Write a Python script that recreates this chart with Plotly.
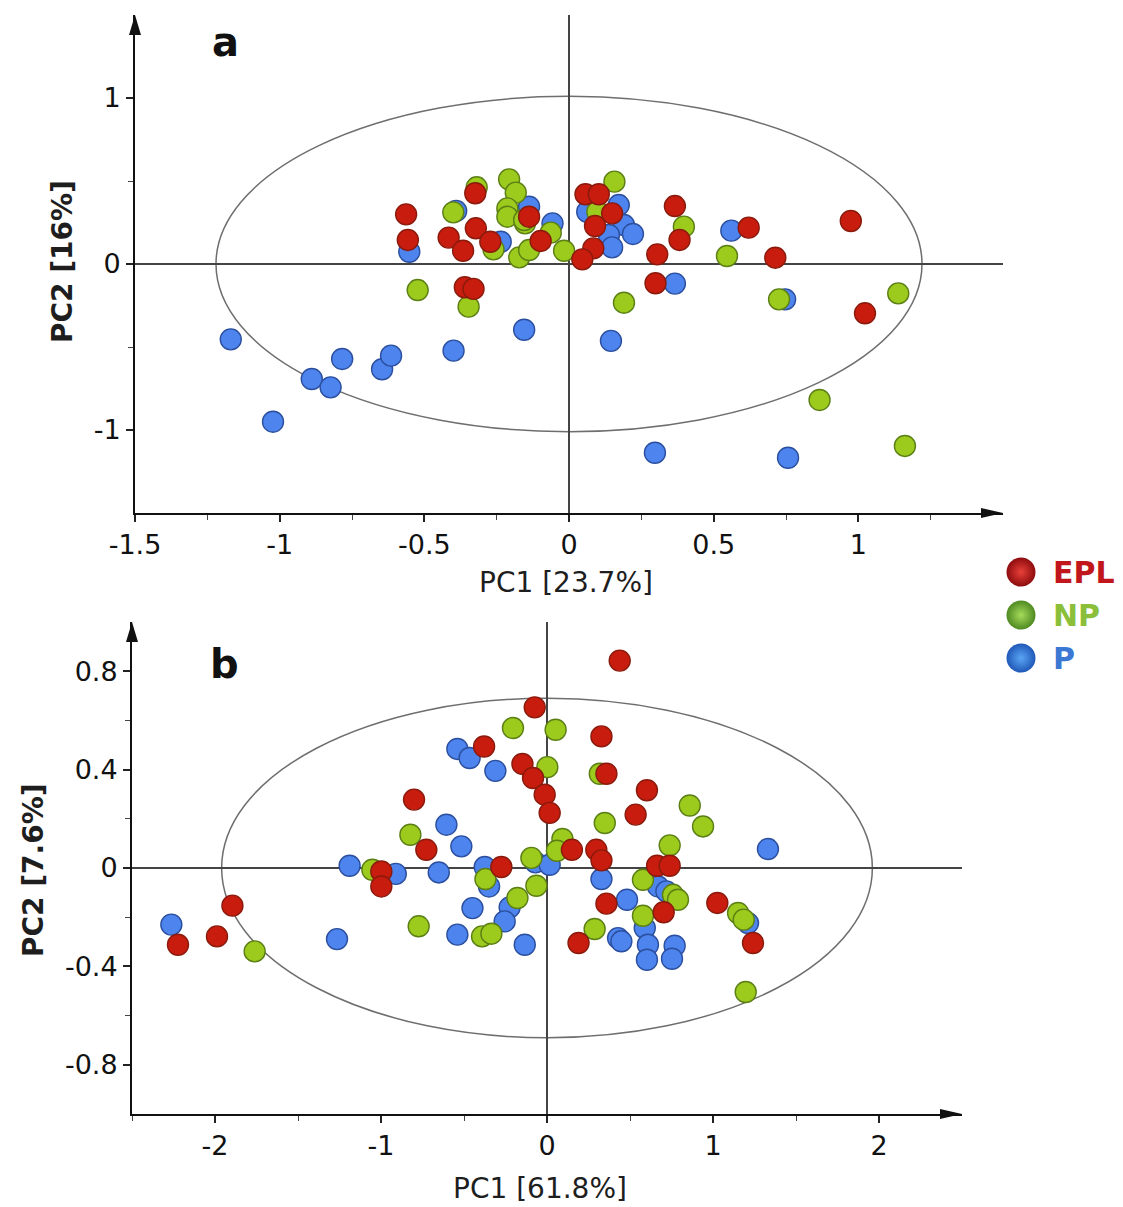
import plotly.graph_objects as go

# ---------------- data ----------------
groups = ["EPL", "NP", "P"]

# Panel a  (PC1 23.7 %, PC2 16 %)
a_epl_x = [-0.563, -0.557, -0.324, -0.416, -0.366, -0.322, -0.272, -0.138, -0.098, -0.36, -0.33,
           0.057, 0.103, 0.149, 0.090, 0.084, 0.046, 0.366, 0.382, 0.305, 0.299, 0.621, 0.713, 0.974, 1.023]
a_epl_y = [0.299, 0.145, 0.426, 0.159, 0.080, 0.215, 0.134, 0.285, 0.139, -0.14, -0.15,
           0.42, 0.42, 0.305, 0.229, 0.094, 0.028, 0.349, 0.145, 0.058, -0.116, 0.219, 0.038, 0.259, -0.297]
a_np_x = [-0.319, -0.207, -0.184, -0.213, -0.213, -0.152, -0.155, -0.40, -0.261, -0.172, -0.138, -0.063, -0.017,
          -0.523, -0.347, 0.157, 0.098, 0.397, 0.546, 0.190, 0.726, 1.138, 0.866, 1.161]
a_np_y = [0.462, 0.510, 0.430, 0.335, 0.285, 0.245, 0.265, 0.311, 0.088, 0.040, 0.084, 0.189, 0.080,
          -0.157, -0.257, 0.496, 0.315, 0.225, 0.048, -0.233, -0.213, -0.177, -0.819, -1.096]
a_p_x = [-1.169, -1.023, -0.889, -0.824, -0.784, -0.646, -0.615, -0.399, -0.155, 0.145, 0.366, 0.747,
         0.297, 0.757, -0.552, -0.39, -0.138, -0.057, -0.236, 0.063, 0.172, 0.19, 0.221, 0.138, 0.149, 0.561]
a_p_y = [-0.454, -0.95, -0.693, -0.743, -0.572, -0.634, -0.552, -0.522, -0.396, -0.463, -0.118, -0.213,
         -1.137, -1.167, 0.074, 0.32, 0.345, 0.245, 0.134, 0.315, 0.355, 0.235, 0.181, 0.175, 0.100, 0.201]

# Panel b  (PC1 61.8 %, PC2 7.6 %)
b_epl_x = [-0.074, -0.379, -0.148, -0.084, -0.014, 0.016, -0.801, -0.727, -0.998, -0.998, -0.275, 0.150,
           0.190, 0.438, 0.328, 0.358, 0.602, 0.534, 0.297, 0.328, 0.663, 0.739, 0.358, 0.703, 1.026, 1.241,
           -2.223, -1.988, -1.895]
b_epl_y = [0.653, 0.494, 0.423, 0.366, 0.298, 0.224, 0.278, 0.074, -0.014, -0.075, 0.004, 0.074,
           -0.305, 0.843, 0.535, 0.383, 0.316, 0.217, 0.074, 0.031, 0.009, 0.009, -0.145, -0.180, -0.142, -0.305,
           -0.312, -0.278, -0.153]
b_np_x = [-0.205, 0.052, 0.002, -0.823, -1.052, 0.093, 0.06, -0.094, -0.371, -0.064, -0.178, -0.773, -0.391,
          -0.335, 0.318, 0.348, 0.860, 0.940, 0.739, 0.578, 0.759, 0.789, 0.578, 0.287, 1.151, 1.185, 1.197, -1.761]
b_np_y = [0.569, 0.562, 0.410, 0.135, -0.007, 0.118, 0.07, 0.041, -0.045, -0.072, -0.122, -0.237, -0.278,
          -0.267, 0.383, 0.183, 0.254, 0.169, 0.092, -0.048, -0.109, -0.129, -0.194, -0.248, -0.183, -0.210, -0.504, -0.339]
b_p_x = [-0.540, -0.466, -0.311, -0.606, -0.516, -1.189, -0.911, -0.652, -0.375, -0.349, -0.070, 0.016,
         -0.449, -0.225, -0.255, -0.540, -0.134, -1.265, -2.263, 0.328, 0.482, 0.669, 0.719, 0.589, 0.428,
         0.448, 0.608, 0.602, 0.769, 0.753, 1.331, 1.211]
b_p_y = [0.484, 0.447, 0.395, 0.176, 0.088, 0.009, -0.024, -0.018, 0.004, -0.075, 0.023, 0.013,
         -0.163, -0.160, -0.217, -0.271, -0.312, -0.289, -0.230, -0.045, -0.129, -0.075, -0.095, -0.244, -0.285,
         -0.298, -0.312, -0.373, -0.316, -0.369, 0.077, -0.224]

# Hotelling ellipse semi-axes
a_ell = (1.22, 1.01)
b_ell = (1.96, 0.69)

# ticks
a_xticks = [-1.5, -1, -0.5, 0, 0.5, 1]
a_xlabels = ["-1.5", "-1", "-0.5", "0", "0.5", "1"]
a_xminor = [-1.25, -0.75, -0.25, 0.25, 0.75, 1.25]
a_yticks = [-1, 0, 1]
a_ylabels = ["-1", "0", "1"]
a_yminor = [-0.5, 0.5]
b_xticks = [-2, -1, 0, 1, 2]
b_xlabels = ["-2", "-1", "0", "1", "2"]
b_xminor = [-2.5, -1.5, -0.5, 0.5, 1.5]
b_yticks = [-0.8, -0.4, 0, 0.4, 0.8]
b_ylabels = ["-0.8", "-0.4", "0", "0.4", "0.8"]
b_yminor = [-0.6, -0.2, 0.2, 0.6]

# ---------------- styling ----------------
OFF = 8                       # page body margin
W, H = 1123 - OFF, 1207 - OFF
FONT = "DejaVu Sans"
fill = {"EPL": "#c81d0e", "NP": "#9ccb1e", "P": "#4d84ee"}
edge = {"EPL": "#8a1a0c", "NP": "#5b7f14", "P": "#2b4f9e"}
leg_light = {"EPL": "#e8403a", "NP": "#a6dc5a", "P": "#5aa6f4"}
leg_dark = {"EPL": "#8e0c0e", "NP": "#4f8a22", "P": "#2058b8"}
leg_text = {"EPL": "#c0161c", "NP": "#8bbf3a", "P": "#3a78d4"}

def fx(p):
    return (p - OFF) / W

def fy(p):
    return 1 - (p - OFF) / H

def px_dom_x(x0, x1):
    return [fx(x0), fx(x1)]

def px_dom_y(top, bottom):
    return [fy(bottom), fy(top)]

dom_ax = px_dom_x(135, 1003)
dom_ay = px_dom_y(15, 513)
dom_bx = px_dom_x(132, 962)
dom_by = px_dom_y(622, 1114)

fig = go.Figure()

panel_data = {
    "a": {"EPL": (a_epl_x, a_epl_y), "NP": (a_np_x, a_np_y), "P": (a_p_x, a_p_y)},
    "b": {"EPL": (b_epl_x, b_epl_y), "NP": (b_np_x, b_np_y), "P": (b_p_x, b_p_y)},
}
axes_of = {"a": ("x", "y"), "b": ("x2", "y2")}

for pan in ["a", "b"]:
    xr, yr = axes_of[pan]
    for g in ["P", "NP", "EPL"]:
        xs, ys = panel_data[pan][g]
        fig.add_trace(go.Scatter(
            x=xs, y=ys, mode="markers", xaxis=xr, yaxis=yr, name=g, showlegend=False,
            marker=dict(size=21, color=fill[g], line=dict(color=edge[g], width=1.4)),
        ))

# legend (drawn on a hidden helper axis measured in page pixels)
leg_x = 1021
leg_y0, leg_dy = 572, 43
for i, g in enumerate(groups):
    fig.add_trace(go.Scatter(
        x=[leg_x], y=[leg_y0 + i * leg_dy], mode="markers", xaxis="x3", yaxis="y3", showlegend=False,
        marker=dict(size=29, color=leg_dark[g],
                    gradient=dict(type="radial", color=leg_light[g]), line=dict(width=0)),
    ))
    fig.add_annotation(x=1051, y=leg_y0 + i * leg_dy + 1, xref="x3", yref="y3", text=f"<b>{g}</b>",
                       showarrow=False, xanchor="left", yanchor="middle",
                       font=dict(family=FONT, size=30, color=leg_text[g]))

tickfont = dict(family=FONT, size=27, color="#111111")

def axis(domain, rng, tv, tt, minor_vals, anchor):
    return dict(
        domain=domain, range=rng, anchor=anchor, automargin=False,
        tickmode="array", tickvals=tv, ticktext=tt,
        ticks="outside", ticklen=7, tickwidth=1.5, tickcolor="#222",
        minor=dict(tickmode="array", tickvals=minor_vals, ticks="outside", ticklen=5,
                   tickwidth=1.2, tickcolor="#444", showgrid=False),
        showline=True, linecolor="#111", linewidth=2,
        zeroline=True, zerolinecolor="#444", zerolinewidth=1.6,
        showgrid=False, tickfont=tickfont, layer="below traces", fixedrange=True,
    )

fig.update_layout(
    width=W, height=H, margin=dict(l=0, r=0, t=0, b=0, autoexpand=False),
    paper_bgcolor="white", plot_bgcolor="white",
    xaxis=axis(dom_ax, [-1.5, 1.5], a_xticks, a_xlabels, a_xminor, "y"),
    yaxis=axis(dom_ay, [-1.5, 1.5], a_yticks, a_ylabels, a_yminor, "x"),
    xaxis2=axis(dom_bx, [-2.5, 2.5], b_xticks, b_xlabels, b_xminor, "y2"),
    yaxis2=axis(dom_by, [-1.0, 1.0], b_yticks, b_ylabels, b_yminor, "x2"),
    xaxis3=dict(domain=px_dom_x(985, 1123), range=[985, 1123], visible=False, anchor="y3",
                fixedrange=True, automargin=False),
    yaxis3=dict(domain=px_dom_y(540, 690), range=[690, 540], visible=False, anchor="x3",
                fixedrange=True, automargin=False),
    showlegend=False,
)

# ellipses
for (xr, yr), (ea, eb) in [(("x", "y"), a_ell), (("x2", "y2"), b_ell)]:
    fig.add_shape(type="circle", xref=xr, yref=yr, x0=-ea, x1=ea, y0=-eb, y1=eb,
                  line=dict(color="#6e6e6e", width=1.5), layer="below")

# axis arrowheads (paper-referenced so they are not clipped by the plot area)
for dx, dy in [(dom_ax, dom_ay), (dom_bx, dom_by)]:
    fig.add_shape(type="path", xref="paper", yref="paper", xsizemode="pixel", ysizemode="pixel",
                  xanchor=dx[0], yanchor=dy[1], path="M -6,-20 L 0,0 L 6,-20 Z",
                  fillcolor="#111", line=dict(width=0))
    fig.add_shape(type="path", xref="paper", yref="paper", xsizemode="pixel", ysizemode="pixel",
                  xanchor=dx[1], yanchor=dy[0], path="M -22,5 L 0,0 L -22,-5 Z",
                  fillcolor="#111", line=dict(width=0))

def page_annot(text, x, y, size, bold=False, angle=0, color="#1e1e1e"):
    fig.add_annotation(x=fx(x), y=fy(y), xref="paper", yref="paper",
                       text=f"<b>{text}</b>" if bold else text, showarrow=False,
                       xanchor="center", yanchor="middle", textangle=angle,
                       font=dict(family=FONT, size=size, color=color))

page_annot("PC1 [23.7%]", 566, 583, 28)
page_annot("PC2 [16%]", 62, 262, 28, bold=True, angle=-90)
page_annot("PC1 [61.8%]", 540, 1188, 28)
page_annot("PC2 [7.6%]", 33, 870, 28, bold=True, angle=-90)
page_annot("a", 225, 42, 40, bold=True, color="#111")
page_annot("b", 224, 664, 40, bold=True, color="#111")

fig.write_html("out.html")
